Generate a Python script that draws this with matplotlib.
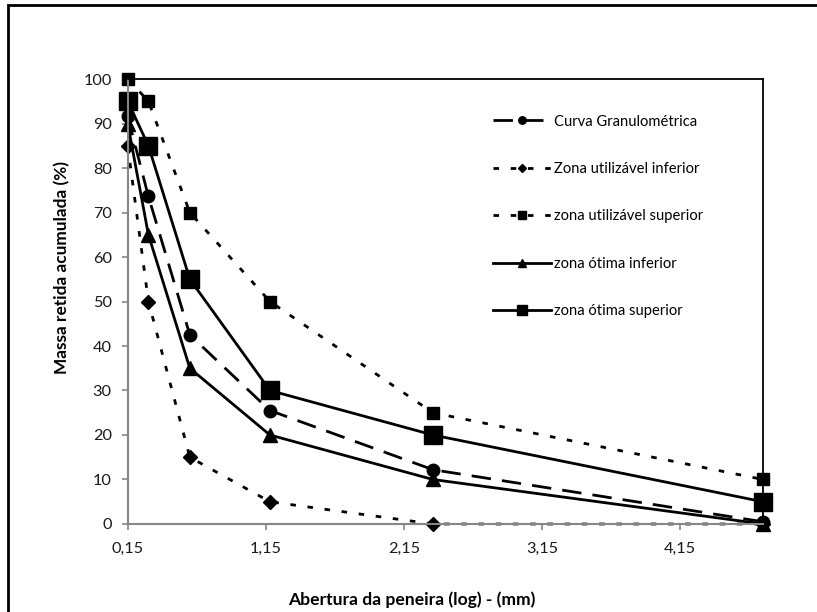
import matplotlib.pyplot as plt
from matplotlib.patches import Rectangle

# Abertura das peneiras (mm)
aberturas = [0.15, 0.3, 0.6, 1.18, 2.36, 4.75]

# Massa retida acumulada (%)
curva_granulometrica = [91.6, 73.6, 42.5, 25.5, 12.2, 0.5]
zona_util_inferior = [85, 50, 15, 5, 0, 0]
zona_util_superior = [100, 95, 70, 50, 25, 10]
zona_otima_inferior = [90, 65, 35, 20, 10, 0]
zona_otima_superior = [95, 85, 55, 30, 20, 5]

x_ticks = [0.15, 1.15, 2.15, 3.15, 4.15]
x_tick_labels = ['0,15', '1,15', '2,15', '3,15', '4,15']
y_ticks = list(range(0, 101, 10))

plt.rcParams['font.family'] = ['Lato', 'DejaVu Sans']

fig = plt.figure(figsize=(8.17, 6.12), dpi=100)
ax = fig.add_axes([0.1563, 0.1438, 0.9339 - 0.1563, 0.8709 - 0.1438])

lw = 2.0
dotted = (0, (2.0, 4.2))
long_dash = (0, (7, 4))

ax.plot(aberturas, curva_granulometrica, color='black', lw=lw, linestyle=long_dash,
        marker='o', markersize=9, label='Curva Granulométrica', clip_on=False)
ax.plot(aberturas, zona_util_inferior, color='black', lw=lw, linestyle=dotted,
        marker='D', markersize=7.5, label='Zona utilizável inferior', clip_on=False)
ax.plot(aberturas, zona_util_superior, color='black', lw=lw, linestyle=dotted,
        marker='s', markersize=8.5, label='zona utilizável superior', clip_on=False)
ax.plot(aberturas, zona_otima_inferior, color='black', lw=lw, linestyle='-',
        marker='^', markersize=10, label='zona ótima inferior', clip_on=False)
ax.plot(aberturas, zona_otima_superior, color='black', lw=lw, linestyle='-',
        marker='s', markersize=13, label='zona ótima superior', clip_on=False)

ax.set_xlim(0.15, 4.75)
ax.set_ylim(0, 100)
ax.set_xticks(x_ticks)
ax.set_xticklabels(x_tick_labels)
ax.set_yticks(y_ticks)

# Eixos estilo Excel: esquerdo/inferior cinza, topo/direita preto
for side in ['left', 'bottom']:
    ax.spines[side].set_color('#868686')
    ax.spines[side].set_linewidth(1.5)
for side in ['top', 'right']:
    ax.spines[side].set_color('black')
    ax.spines[side].set_linewidth(1.3)
ax.tick_params(axis='both', direction='out', length=4.5, width=1.2, color='#868686',
               labelsize=11.7, labelcolor='#1a1a1a')
ax.tick_params(axis='y', pad=7)
ax.tick_params(axis='x', pad=8.5)

fig.text(412 / 817, 1 - 600 / 612, 'Abertura da peneira (log) - (mm)', ha='center', va='center',
         fontsize=12.6, fontweight='bold')
fig.text(62 / 817, 1 - 268 / 612, 'Massa retida acumulada (%)', ha='center', va='center',
         rotation=90, fontsize=12.4, fontweight='bold')

leg = ax.legend(loc='upper left', bbox_to_anchor=(493 / 817, 1 - 114.5 / 612),
                bbox_transform=fig.transFigure, frameon=False, fontsize=10.6,
                handlelength=3.95, handletextpad=0.2, labelspacing=2.27,
                borderpad=0, borderaxespad=0, markerscale=0.6)

# moldura externa da figura (cortada à direita e embaixo)
fig.patches.append(Rectangle((8 / 817, -0.05), 1.2, 1 - 5 / 612 + 0.05,
                             transform=fig.transFigure, fill=False,
                             edgecolor='black', linewidth=2))

fig.savefig('out.png', dpi=100)
